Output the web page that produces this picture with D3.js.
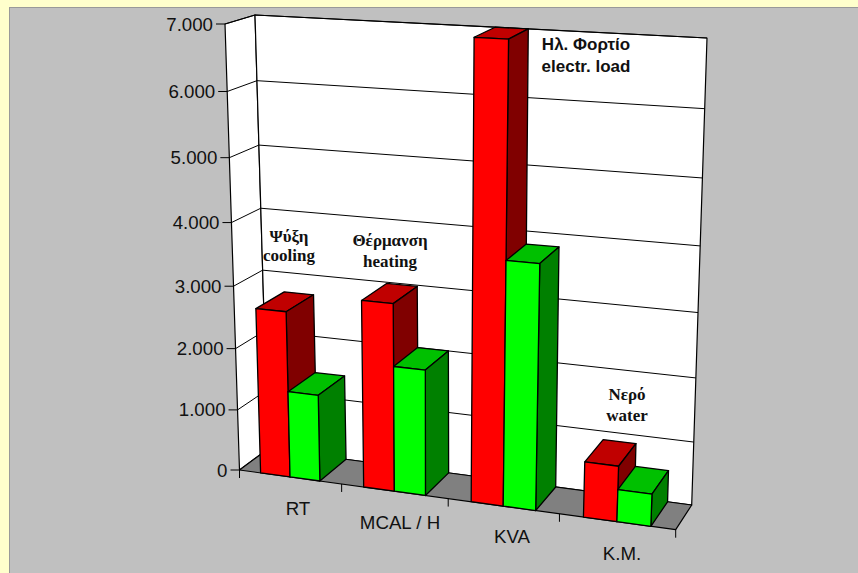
<!DOCTYPE html>
<html>
<head>
<meta charset="utf-8">
<style>
html,body{margin:0;padding:0;background:#ffffcc;overflow:hidden}
svg{display:block}
</style>
<script src="https://cdn.jsdelivr.net/npm/d3@7"></script>
</head>
<body>
<script>
const categories = ["RT", "MCAL / H", "KVA", "K.M."];
const seriesNames = ["first", "second"];
const firstValues = [2680, 2980, 7000, 865];
const secondValues = [1400, 2000, 3800, 500];
const valueTicks = [0, 1000, 2000, 3000, 4000, 5000, 6000, 7000];
const notes = [
  {lines: ["Ψύξη", "cooling"], x: 289, ys: [242, 261], serif: true},
  {lines: ["Θέρμανση", "heating"], x: 390, ys: [246, 267], serif: true},
  {lines: ["Ηλ. Φορτίο", "electr. load"], x: 586, ys: [50, 72], serif: false},
  {lines: ["Νερό", "water"], x: 627, ys: [400, 421], serif: true}
];

const W = 858, H = 573;
const svg = d3.select("body").append("svg").attr("width", W).attr("height", H);

// plot box corners on screen: front/back, left/right, bottom/top
const box = {
  flb: [239.5, 470], frb: [675.7, 529.7], blb: [268, 449], brb: [691.7, 505],
  flt: [225, 24], frt: [694, 49], blt: [255, 15], brt: [707, 38]
};

// foreshortening of the two in-plane axes
const foreshorten = (t, c) => t / (t + (1 - t) * c);
const u = d3.scaleLinear().domain([0, 1]).range([0, 1]);
const v = d3.scaleLinear().domain([0, 7000]).range([0, 1]);
const outer = d3.scaleBand().domain(categories).range([0, 1]).paddingInner(0.42).paddingOuter(0.21);
const inner = d3.scaleBand().domain(seriesNames).range([0, outer.bandwidth()]);

function project(a, value, d) {
  const fx = foreshorten(u(a), 1.09), fy = foreshorten(v(value), 1.07);
  const mix = (p, q, t) => [p[0] + (q[0] - p[0]) * t, p[1] + (q[1] - p[1]) * t];
  const bottom = mix(mix(box.flb, box.frb, fx), mix(box.blb, box.brb, fx), d);
  const top = mix(mix(box.flt, box.frt, fx), mix(box.blt, box.brt, fx), d);
  return mix(bottom, top, fy);
}

const poly = pts => "M" + pts.map(p => p.join(",")).join("L") + "Z";
const ink = "#000";

// panel behind the plot
svg.append("rect").attr("x", 9.5).attr("y", 7.5).attr("width", W).attr("height", H)
  .attr("fill", "#c0c0c0").attr("stroke", "#999999").attr("stroke-width", 1);

// walls and floor
const g = svg.append("g").attr("stroke", ink).attr("stroke-linejoin", "round");
g.append("path").attr("fill", "#fff").attr("stroke-width", 1.2)
  .attr("d", poly([project(0, 0, 0), project(0, 7000, 0), project(0, 7000, 1), project(0, 0, 1)]));
g.append("path").attr("fill", "#fff").attr("stroke-width", 1.2)
  .attr("d", poly([project(0, 0, 1), project(0, 7000, 1), project(1, 7000, 1), project(1, 0, 1)]));
g.append("path").attr("fill", "#808080").attr("stroke-width", 1.2)
  .attr("d", poly([project(0, 0, 0), project(0, 0, 1), project(1, 0, 1), project(1, 0, 0)]));

// gridlines across both walls, with value ticks and labels
const fmt = d3.formatLocale({decimal: ",", thousands: ".", grouping: [3], currency: ["", ""]}).format(",d");
valueTicks.forEach(t => {
  const a = project(0, t, 0), b = project(0, t, 1), c = project(1, t, 1);
  if (t > 0) {
    g.append("path").attr("fill", "none").attr("stroke-width", 1)
      .attr("d", `M${a}L${b}L${c}`);
  }
  g.append("line").attr("x1", a[0] - 9).attr("x2", a[0]).attr("y1", a[1]).attr("y2", a[1]).attr("stroke-width", 1);
  svg.append("text").attr("x", a[0] - 12).attr("y", a[1] + 6.5).attr("text-anchor", "end")
    .attr("font-family", "'Liberation Sans'").attr("font-size", 18.7).attr("fill", "#111").text(fmt(t));
});

// category ticks along the front floor edge
d3.range(categories.length + 1).forEach(i => {
  const p = project(i / categories.length, 0, 0);
  g.append("line").attr("x1", p[0]).attr("x2", p[0]).attr("y1", p[1]).attr("y2", p[1] + 8).attr("stroke-width", 1);
});

// category labels sit on the same slant as the floor edge
const labelSpots = [[298, 515], [400, 529], [512, 543], [622, 560]];
categories.forEach((c, i) => {
  svg.append("text").attr("x", labelSpots[i][0]).attr("y", labelSpots[i][1]).attr("text-anchor", "middle")
    .attr("font-family", "'Liberation Sans'").attr("font-size", 18.7).attr("fill", "#111").text(c);
});

// one extruded bar: front, top and side faces
function bar(a0, a1, value, colors) {
  const q = (a, val, d) => project(a, val, d);
  g.append("path").attr("fill", colors.top).attr("stroke-width", 1.3)
    .attr("d", poly([q(a0, value, 0), q(a0, value, 1), q(a1, value, 1), q(a1, value, 0)]));
  g.append("path").attr("fill", colors.side).attr("stroke-width", 1.3)
    .attr("d", poly([q(a1, 0, 0), q(a1, value, 0), q(a1, value, 1), q(a1, 0, 1)]));
  g.append("path").attr("fill", colors.front).attr("stroke-width", 1.3)
    .attr("d", poly([q(a0, 0, 0), q(a0, value, 0), q(a1, value, 0), q(a1, 0, 0)]));
}
const reds = {front: "#ff0000", top: "#c00000", side: "#800000"};
const greens = {front: "#00ff00", top: "#00c000", side: "#008000"};
categories.forEach((c, i) => {
  const x0 = outer(c);
  bar(x0 + inner("first"), x0 + inner("first") + inner.bandwidth(), firstValues[i], reds);
  bar(x0 + inner("second"), x0 + inner("second") + inner.bandwidth(), secondValues[i], greens);
});

// two-line annotations above each group
notes.forEach(n => {
  n.lines.forEach((line, i) => {
    svg.append("text").attr("x", n.x).attr("y", n.ys[i]).attr("text-anchor", "middle")
      .attr("font-family", n.serif ? "'Liberation Serif'" : "'Liberation Sans'")
      .attr("font-weight", "bold").attr("font-size", 17).attr("fill", "#111").text(line);
  });
});
</script>
</body>
</html>
